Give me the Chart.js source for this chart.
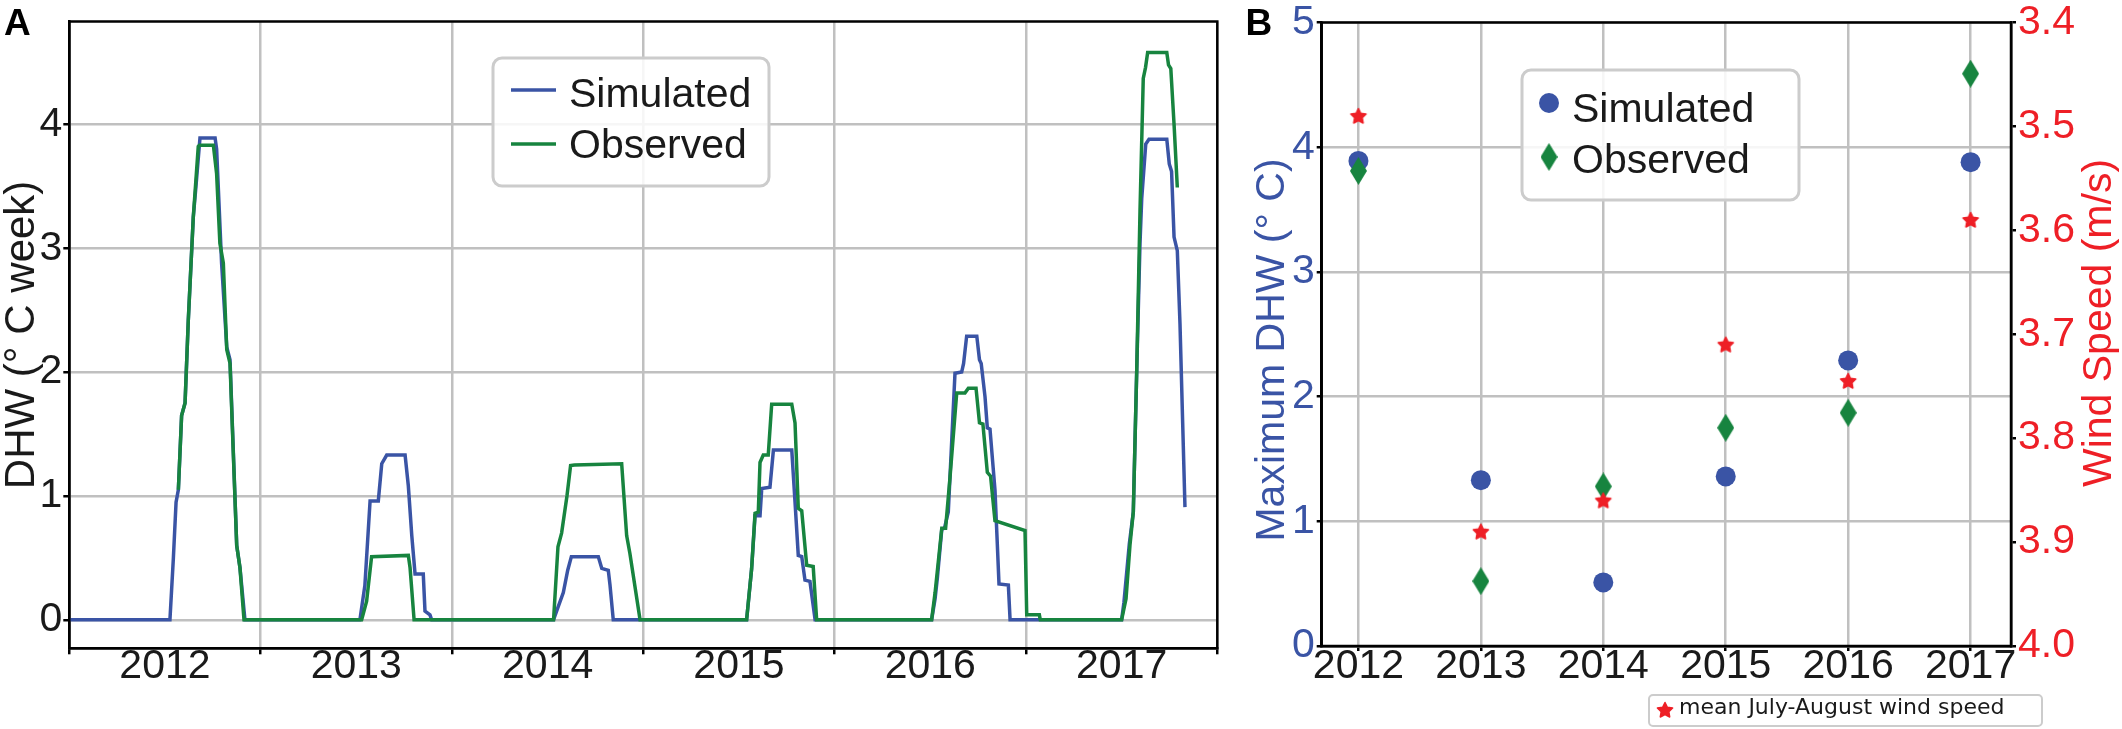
<!DOCTYPE html>
<html>
<head>
<meta charset="utf-8">
<script src="https://cdn.jsdelivr.net/npm/chart.js@4.4.0/dist/chart.umd.min.js"></script>
<style>
html, body { margin: 0; padding: 0; background: #fff; }
#wrap { position: relative; width: 2122px; height: 729px; overflow: hidden; }
canvas { position: absolute; top: 0; }
#chartA { left: 0; }
#chartB { left: 1240px; }
</style>
</head>
<body>
<div id="wrap">
  <canvas id="chartA" width="1240" height="729"></canvas>
  <canvas id="chartB" width="882" height="729"></canvas>
</div>
<script>
// panel A - degree heating weeks, x in decimal years
var simYear = [
  2012.000, 2012.526, 2012.544, 2012.558, 2012.570, 2012.587, 2012.605, 2012.622, 2012.648, 2012.662,
  2012.683, 2012.762, 2012.770, 2012.796, 2012.823, 2012.840, 2012.875, 2012.892, 2012.918,
  2013.519, 2013.545, 2013.572, 2013.615, 2013.633, 2013.659, 2013.755, 2013.772, 2013.790, 2013.807,
  2013.850, 2013.859, 2013.885, 2013.894,
  2014.531, 2014.554, 2014.582, 2014.605, 2014.624, 2014.765, 2014.783, 2014.817, 2014.826, 2014.843,
  2015.540, 2015.566, 2015.584, 2015.610, 2015.619, 2015.662, 2015.680, 2015.776, 2015.793, 2015.810,
  2015.828, 2015.845, 2015.871, 2015.898,
  2016.507, 2016.525, 2016.537, 2016.560, 2016.574, 2016.594, 2016.629, 2016.664, 2016.674, 2016.690,
  2016.743, 2016.757, 2016.766, 2016.786, 2016.798, 2016.812, 2016.838, 2016.850, 2016.859, 2016.908,
  2016.917,
  2017.500, 2017.512, 2017.540, 2017.561, 2017.579, 2017.596, 2017.605, 2017.626, 2017.643, 2017.736,
  2017.749, 2017.761, 2017.774, 2017.791, 2017.805, 2017.819, 2017.831
]
var simDHW = [
  0, 0, 0.5, 0.95, 1.05, 1.65, 1.75, 2.42, 3.25, 3.5,
  3.89, 3.89, 3.8, 2.88, 2.2, 2.1, 0.6, 0.42, 0,
  0, 0.28, 0.96, 0.96, 1.26, 1.33, 1.33, 1.08, 0.68, 0.37,
  0.37, 0.07, 0.04, 0,
  0, 0.1, 0.22, 0.4, 0.51, 0.51, 0.415, 0.4, 0.28, 0,
  0, 0.41, 0.84, 0.84, 1.06, 1.07, 1.37, 1.37, 0.95, 0.52,
  0.51, 0.32, 0.31, 0,
  0, 0.17, 0.34, 0.73, 0.74, 0.87, 1.99, 2.0, 2.07, 2.29,
  2.29, 2.1, 2.07, 1.8, 1.55, 1.54, 1.05, 0.62, 0.29, 0.28,
  0,
  0, 0.14, 0.61, 0.87, 2.02, 3.04, 3.4, 3.84, 3.88, 3.88,
  3.68, 3.62, 3.09, 2.98, 2.39, 1.59, 0.91
]
var obsYear = [
  2012.570, 2012.587, 2012.605, 2012.622, 2012.648, 2012.674, 2012.680, 2012.753, 2012.770, 2012.787,
  2012.805, 2012.823, 2012.840, 2012.857, 2012.875, 2012.892, 2012.913,
  2013.528, 2013.554, 2013.580, 2013.772, 2013.781, 2013.802,
  2014.531, 2014.554, 2014.573, 2014.601, 2014.620, 2014.640, 2014.887, 2014.913, 2014.930, 2014.983,
  2015.540, 2015.566, 2015.584, 2015.601, 2015.610, 2015.627, 2015.653, 2015.671, 2015.776, 2015.793,
  2015.810, 2015.828, 2015.854, 2015.888, 2015.906,
  2016.507, 2016.525, 2016.560, 2016.580, 2016.603, 2016.638, 2016.681, 2016.699, 2016.739, 2016.757,
  2016.775, 2016.798, 2016.815, 2016.838, 2016.995, 2017.004, 2017.070, 2017.075,
  2017.500, 2017.523, 2017.544, 2017.561, 2017.579, 2017.596, 2017.613, 2017.625, 2017.636, 2017.736,
  2017.745, 2017.757, 2017.774, 2017.791
]
var obsDHW = [
  1.05, 1.65, 1.75, 2.42, 3.25, 3.82, 3.83, 3.83, 3.6, 3.04,
  2.88, 2.18, 2.07, 1.35, 0.6, 0.42, 0,
  0, 0.15, 0.51, 0.52, 0.42, 0,
  0, 0.59, 0.7, 1.0, 1.245, 1.25, 1.26, 0.68, 0.535, 0,
  0, 0.41, 0.86, 0.87, 1.27, 1.33, 1.33, 1.74, 1.74, 1.59,
  0.9, 0.88, 0.44, 0.43, 0,
  0, 0.22, 0.74, 0.74, 1.15, 1.83, 1.83, 1.87, 1.87, 1.59,
  1.58, 1.19, 1.16, 0.8, 0.72, 0.04, 0.04, 0,
  0, 0.17, 0.61, 0.87, 2.02, 3.3, 4.37, 4.46, 4.58, 4.58,
  4.48, 4.45, 4.0, 3.49
]

// panel B - yearly maximum DHW and mean July-August wind speed
var years = [2012, 2013, 2014, 2015, 2016, 2017]
var simMax = [3.89, 1.33, 0.51, 1.36, 2.29, 3.88]
var obsMax = [3.81, 0.52, 1.28, 1.75, 1.87, 4.59]
var windSpeed = [3.49, 3.89, 3.86, 3.71, 3.745, 3.59]

var yearLabels = ['2012', '2013', '2014', '2015', '2016', '2017']
var halfYearTicks = [2012, 2012.5, 2013, 2013.5, 2014, 2014.5, 2015, 2015.5, 2016, 2016.5, 2017, 2017.5, 2018]
var dhwTicksA = [0, 1, 2, 3, 4]
var dhwTicksB = [0, 1, 2, 3, 4, 5]
var windTicks = [3.4, 3.5, 3.6, 3.7, 3.8, 3.9, 4.0]

var BLUE = '#3a54a5', GREEN = '#17843f', RED = '#ee1f26'
var GRID = '#c0c0c0', INK = '#1a1a1a', NONE = 'rgba(0,0,0,0)'

Chart.defaults.font.family = '"Liberation Sans", Arial, sans-serif'
Chart.defaults.color = INK

function pairs(xs, ys) {
	return xs.map(function (x, i) { return { x: x, y: ys[i] } })
}
function setTicks(list) {
	return function (scale) { scale.ticks = list.map(function (v) { return { value: v } }) }
}
function isWhole(ctx) {
	return ctx.tick && Math.abs(ctx.tick.value - Math.round(ctx.tick.value)) < 1e-6
}

function diamondMarker(w, h, color) {
	var c = document.createElement('canvas')
	c.width = w; c.height = h
	var g = c.getContext('2d')
	g.fillStyle = color
	g.beginPath()
	g.moveTo(w / 2, 0); g.lineTo(w, h / 2); g.lineTo(w / 2, h); g.lineTo(0, h / 2)
	g.closePath(); g.fill()
	return c
}
function starMarker(r, color) {
	var s = Math.ceil(r * 2) + 4, c = document.createElement('canvas')
	c.width = s; c.height = s
	var g = c.getContext('2d')
	g.fillStyle = color; g.strokeStyle = color; g.lineWidth = 1.5; g.lineJoin = 'round'
	g.beginPath()
	for (var i = 0; i < 10; i++) {
		var rr = i % 2 ? r * 0.5 : r, a = -Math.PI / 2 + i * Math.PI / 5
		g.lineTo(s / 2 + rr * Math.cos(a), s / 2 + 0.5 + rr * Math.sin(a))
	}
	g.closePath(); g.fill(); g.stroke()
	return c
}
var diamond = diamondMarker(17, 28, GREEN)
var star = starMarker(8, RED)

// closes the box around the plot area
var frame = {
	id: 'frame',
	afterDraw: function (chart) {
		var a = chart.chartArea, g = chart.ctx
		g.save()
		g.strokeStyle = '#000'; g.lineWidth = 2.5
		g.strokeRect(a.left, a.top, a.right - a.left, a.bottom - a.top)
		g.restore()
	}
}

// legend boxes, panel letters and free titles
var notes = {
	id: 'notes',
	afterDraw: function (chart, args, opts) {
		var g = chart.ctx
		g.save();
		(opts.boxes || []).forEach(function (b) {
			g.beginPath()
			g.roundRect(b.x, b.y, b.w, b.h, b.radius)
			g.fillStyle = 'rgba(255,255,255,0.85)'; g.fill()
			g.strokeStyle = '#cccccc'; g.lineWidth = b.border; g.stroke()
			g.font = b.font; g.textBaseline = 'alphabetic'; g.textAlign = 'left'
			b.items.forEach(function (it) {
				if (it.kind === 'line') {
					g.strokeStyle = it.color; g.lineWidth = 3.5
					g.beginPath(); g.moveTo(b.keyX - b.keyLen / 2, it.keyY); g.lineTo(b.keyX + b.keyLen / 2, it.keyY); g.stroke()
				} else if (it.kind === 'circle') {
					g.fillStyle = it.color
					g.beginPath(); g.arc(b.keyX, it.keyY, 10, 0, Math.PI * 2); g.fill()
				} else {
					g.drawImage(it.image, b.keyX - it.image.width / 2, it.keyY - it.image.height / 2)
				}
				g.fillStyle = INK
				g.fillText(it.text, b.textX, it.textY + b.size * 0.358)
			})
		});
		(opts.texts || []).forEach(function (t) {
			g.save()
			g.translate(t.x, t.y)
			g.rotate(t.rotate || 0)
			g.font = t.font; g.fillStyle = t.color
			g.textAlign = t.align || 'left'; g.textBaseline = t.baseline || 'alphabetic'
			g.fillText(t.text, 0, 0)
			g.restore()
		})
		g.restore()
	}
}

new Chart(document.getElementById('chartA'), {
	type: 'line',
	data: {
		datasets: [
			{ label: 'Simulated', data: pairs(simYear, simDHW), borderColor: BLUE, borderWidth: 3.5, pointRadius: 0, tension: 0, order: 2 },
			{ label: 'Observed', data: pairs(obsYear, obsDHW), borderColor: GREEN, borderWidth: 3.5, pointRadius: 0, tension: 0, order: 1 }
		]
	},
	options: {
		responsive: false, animation: false,
		layout: { padding: { top: 18.6, right: 22.7, left: 0, bottom: 0 } },
		scales: {
			x: {
				type: 'linear', min: 2012, max: 2018,
				afterBuildTicks: setTicks(halfYearTicks),
				afterFit: function (s) { s.height = 80.7 },
				grid: {
					color: function (ctx) { return isWhole(ctx) ? GRID : NONE },
					tickColor: function (ctx) { return isWhole(ctx) ? '#000' : NONE },
					lineWidth: 2.5, tickLength: 6
				},
				border: { color: '#000', width: 2.5 },
				ticks: {
					autoSkip: false, maxRotation: 0, padding: -8, color: INK,
					font: { size: 41, lineHeight: 1 },
					callback: function (v) { return Math.abs(v % 1 - 0.5) < 1e-6 ? yearLabels[Math.floor(v) - 2012] : '' }
				}
			},
			y: {
				min: -0.23, max: 4.83,
				afterBuildTicks: setTicks(dhwTicksA),
				afterFit: function (s) { s.width = 69.3 },
				grid: { color: GRID, lineWidth: 2.5, tickColor: '#000', tickLength: 6 },
				border: { color: '#000', width: 2.5 },
				ticks: { padding: 1, color: INK, font: { size: 41, lineHeight: 1 } },
				title: { display: true, text: 'DHW (\u00b0 C week)', color: INK, font: { size: 42, lineHeight: 1 }, padding: { top: 1, bottom: 0 } }
			}
		},
		plugins: {
			legend: { display: false },
			tooltip: { enabled: false },
			notes: {
				boxes: [{
					x: 493, y: 58, w: 276, h: 128, radius: 9, border: 3,
					font: '41px "Liberation Sans", Arial, sans-serif', size: 41,
					keyX: 533.5, keyLen: 45, textX: 569,
					items: [
						{ kind: 'line', color: BLUE, keyY: 90, text: 'Simulated', textY: 92 },
						{ kind: 'line', color: GREEN, keyY: 144, text: 'Observed', textY: 143 }
					]
				}],
				texts: [{ text: 'A', x: 4, y: 35, font: 'bold 37px "Liberation Sans", Arial, sans-serif', color: '#000' }]
			}
		}
	},
	plugins: [frame, notes]
})

new Chart(document.getElementById('chartB'), {
	type: 'scatter',
	data: {
		datasets: [
			{ label: 'Simulated', data: pairs(years, simMax), yAxisID: 'y', pointStyle: 'circle', pointRadius: 10, backgroundColor: BLUE, borderWidth: 0, order: 3 },
			{ label: 'Observed', data: pairs(years, obsMax), yAxisID: 'y', pointStyle: diamond, pointRadius: 10, order: 2 },
			{ label: 'mean July-August wind speed', data: pairs(years, windSpeed), yAxisID: 'y2', pointStyle: star, pointRadius: 8, order: 1 }
		]
	},
	options: {
		responsive: false, animation: false,
		layout: { padding: { top: 20, right: 0, left: 0, bottom: 0 } },
		scales: {
			x: {
				type: 'linear', min: 2011.7, max: 2017.33,
				afterBuildTicks: setTicks(years),
				afterFit: function (s) { s.height = 83 },
				grid: { color: GRID, lineWidth: 2.5, tickColor: '#000', tickLength: 5 },
				border: { color: '#000', width: 2.5 },
				ticks: {
					autoSkip: false, maxRotation: 0, padding: -5, color: INK,
					font: { size: 41, lineHeight: 1 },
					callback: function (v) { return yearLabels[Math.round(v) - 2012] }
				}
			},
			y: {
				position: 'left', min: 0, max: 5,
				afterBuildTicks: setTicks(dhwTicksB),
				afterFit: function (s) { s.width = 81.7 },
				grid: { color: GRID, lineWidth: 2.5, tickColor: '#000', tickLength: 5 },
				border: { color: '#000', width: 2.5 },
				ticks: { padding: 2, color: BLUE, font: { size: 41, lineHeight: 1 } }
			},
			y2: {
				position: 'right', min: 3.4, max: 4.0, reverse: true,
				afterBuildTicks: setTicks(windTicks),
				afterFit: function (s) { s.width = 111 },
				grid: { drawOnChartArea: false, tickColor: '#000', tickLength: 5, lineWidth: 2.5 },
				border: { color: '#000', width: 2.5 },
				ticks: { padding: 2, color: RED, font: { size: 41, lineHeight: 1 }, callback: function (v) { return v.toFixed(1) } }
			}
		},
		plugins: {
			legend: { display: false },
			tooltip: { enabled: false },
			notes: {
				boxes: [{
					x: 282, y: 70, w: 277, h: 130, radius: 9, border: 3,
					font: '41px "Liberation Sans", Arial, sans-serif', size: 41,
					keyX: 309, keyLen: 0, textX: 332,
					items: [
						{ kind: 'circle', color: BLUE, keyY: 103, text: 'Simulated', textY: 107 },
						{ kind: 'image', image: diamond, keyY: 157, text: 'Observed', textY: 158 }
					]
				}, {
					x: 409, y: 695, w: 393, h: 31, radius: 4, border: 2,
					font: '22px "DejaVu Sans", sans-serif', size: 22,
					keyX: 425, keyLen: 0, textX: 439,
					items: [{ kind: 'image', image: star, keyY: 710, text: 'mean July-August wind speed', textY: 706 }]
				}],
				texts: [
					{ text: 'B', x: 5.5, y: 35, font: 'bold 37px "Liberation Sans", Arial, sans-serif', color: '#000' },
					{ text: 'Maximum DHW (\u00b0 C)', x: 33, y: 350, rotate: -Math.PI / 2, align: 'center', baseline: 'middle', font: '41px "Liberation Sans", Arial, sans-serif', color: BLUE },
					{ text: 'Wind Speed (m/s)', x: 860, y: 323, rotate: -Math.PI / 2, align: 'center', baseline: 'middle', font: '41px "Liberation Sans", Arial, sans-serif', color: RED }
				]
			}
		}
	},
	plugins: [frame, notes]
})
</script>
</body>
</html>
